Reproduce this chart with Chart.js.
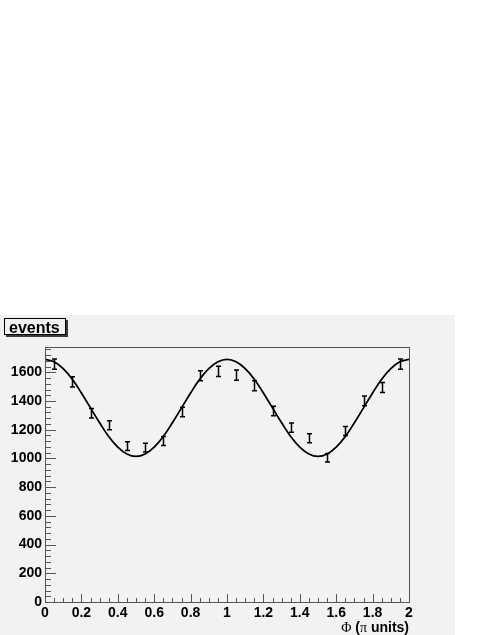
<!DOCTYPE html>
<html>
<head>
<title>events vs phi</title>
<script src="https://cdn.jsdelivr.net/npm/chart.js@4.4.0/dist/chart.umd.min.js"></script>
<style>
    body { margin: 0; background: #ffffff; }
    #plot { display: block; }
</style>
</head>
<body>
<canvas id="plot" width="491" height="635"></canvas>
<script>
// measured bins (phi in pi units) with counts and errors
const phiCenters = [0.05, 0.15, 0.25, 0.35, 0.45, 0.55, 0.65, 0.75, 0.85, 0.95,
                    1.05, 1.15, 1.25, 1.35, 1.45, 1.55, 1.65, 1.75, 1.85, 1.95];
const counts = [1657, 1533, 1315, 1231, 1086, 1075, 1121, 1324, 1576, 1606,
                1580, 1506, 1331, 1215, 1140, 1005, 1191, 1401, 1494, 1657];
const countErrors = [36, 35, 33, 32, 30, 30, 31, 33, 35, 36,
                     35, 35, 33, 32, 31, 30, 32, 34, 35, 36];

// fitted curve
const fitPhi = [0, 0.05, 0.1, 0.15, 0.2, 0.25, 0.3, 0.35, 0.4, 0.45,
                0.5, 0.55, 0.6, 0.65, 0.7, 0.75, 0.8, 0.85, 0.9, 0.95,
                1.0, 1.05, 1.1, 1.15, 1.2, 1.25, 1.3, 1.35, 1.4, 1.45,
                1.5, 1.55, 1.6, 1.65, 1.7, 1.75, 1.8, 1.85, 1.9, 1.95, 2.0];
const fitValues = [1690, 1673, 1625, 1551, 1456, 1352, 1248, 1153, 1079, 1031,
                   1014, 1031, 1079, 1153, 1248, 1352, 1456, 1551, 1625, 1673,
                   1690, 1673, 1625, 1551, 1456, 1352, 1248, 1153, 1079, 1031,
                   1014, 1031, 1079, 1153, 1248, 1352, 1456, 1551, 1625, 1673, 1690];

const xTicks = [0, 0.2, 0.4, 0.6, 0.8, 1, 1.2, 1.4, 1.6, 1.8, 2];
const xTickLabels = ['0', '0.2', '0.4', '0.6', '0.8', '1', '1.2', '1.4', '1.6', '1.8', '2'];
const yTicks = [0, 200, 400, 600, 800, 1000, 1200, 1400, 1600];
const yTickLabels = ['0', '200', '400', '600', '800', '1000', '1200', '1400', '1600'];
const xMinorStep = 0.05;
const yMinorStep = 40;
const yMax = 1776;

const labelFont = { family: 'Liberation Sans, Arial, sans-serif', size: 14, weight: 'bold' };

// gray pad behind the plot
const padBackground = {
    id: 'padBackground',
    beforeDraw(chart) {
        const ctx = chart.ctx;
        ctx.save();
        ctx.fillStyle = '#ffffff';
        ctx.fillRect(0, 0, chart.width, chart.height);
        ctx.fillStyle = '#f2f2f2';
        ctx.fillRect(0, 315, 455, chart.height - 315);
        ctx.restore();
    }
};

// frame plus inward ticks, ROOT style
const frameTicks = {
    id: 'frameTicks',
    afterDraw(chart) {
        const ctx = chart.ctx;
        const a = chart.chartArea;
        const xs = chart.scales.x, ys = chart.scales.y;
        ctx.save();
        ctx.strokeStyle = '#555555';
        ctx.lineWidth = 1;
        ctx.strokeRect(a.left + 0.5, a.top + 0.5, a.right - a.left, a.bottom - a.top);

        ctx.beginPath();
        for (let v = 0; v <= yMax + 0.01; v += yMinorStep) {
            const y = Math.round(ys.getPixelForValue(v)) + 0.5;
            const major = yTicks.some(t => Math.abs(t - v) < 0.01);
            ctx.moveTo(a.left, y);
            ctx.lineTo(a.left + (major ? 11 : 6), y);
        }
        for (let v = 0; v <= 2.0001; v += xMinorStep) {
            const x = Math.round(xs.getPixelForValue(v)) + 0.5;
            const major = xTicks.some(t => Math.abs(t - v) < 0.001);
            ctx.moveTo(x, a.bottom);
            ctx.lineTo(x, a.bottom - (major ? 8 : 4));
        }
        ctx.stroke();

        // axis title: Phi (pi units)
        const parts = [
            { t: '\u03A6', f: '14px "Liberation Serif", "DejaVu Serif", serif' },
            { t: ' (', f: 'bold 14px "Liberation Sans", Arial, sans-serif' },
            { t: '\u03C0', f: '14px "Liberation Serif", "DejaVu Serif", serif' },
            { t: ' units)', f: 'bold 14px "Liberation Sans", Arial, sans-serif' }
        ];
        let total = 0;
        parts.forEach(p => { ctx.font = p.f; p.w = ctx.measureText(p.t).width; total += p.w; });
        let x = a.right - total;
        ctx.fillStyle = '#000000';
        ctx.textBaseline = 'alphabetic';
        ctx.textAlign = 'left';
        parts.forEach(p => { ctx.font = p.f; ctx.fillText(p.t, x, 632); x += p.w; });

        // histogram title box
        ctx.fillStyle = '#3a3a3a';
        ctx.fillRect(6, 320, 62, 17);
        ctx.fillStyle = '#f2f2f2';
        ctx.fillRect(4, 318, 62, 17);
        ctx.strokeStyle = '#000000';
        ctx.strokeRect(4.5, 318.5, 61, 16);
        ctx.fillStyle = '#000000';
        ctx.font = 'bold 16px "Liberation Sans", Arial, sans-serif';
        ctx.fillText('events', 9, 333);
        ctx.restore();
    }
};

// vertical error bars with small caps
const errorBars = {
    id: 'errorBars',
    afterDatasetsDraw(chart) {
        const ctx = chart.ctx;
        const xs = chart.scales.x, ys = chart.scales.y;
        ctx.save();
        ctx.strokeStyle = '#000000';
        ctx.lineWidth = 1.5;
        ctx.beginPath();
        phiCenters.forEach((p, i) => {
            const x = Math.round(xs.getPixelForValue(p)) + 0.5;
            const yt = ys.getPixelForValue(counts[i] + countErrors[i]);
            const yb = ys.getPixelForValue(counts[i] - countErrors[i]);
            ctx.moveTo(x, yt); ctx.lineTo(x, yb);
            ctx.moveTo(x - 2.5, yt); ctx.lineTo(x + 2.5, yt);
            ctx.moveTo(x - 2.5, yb); ctx.lineTo(x + 2.5, yb);
        });
        ctx.stroke();
        ctx.restore();
    }
};

const ctx = document.getElementById('plot').getContext('2d');
const chart = new Chart(ctx, {
    type: 'scatter',
    data: {
        datasets: [
            {
                label: 'fit',
                type: 'line',
                data: fitPhi.map((p, i) => ({ x: p, y: fitValues[i] })),
                borderColor: '#000000',
                borderWidth: 1.8,
                pointRadius: 0,
                fill: false,
                tension: 0.4
            },
            {
                label: 'events',
                data: phiCenters.map((p, i) => ({ x: p, y: counts[i] })),
                pointRadius: 0,
                borderColor: '#000000'
            }
        ]
    },
    options: {
        responsive: false,
        animation: false,
        layout: { padding: { top: 347, right: 82, left: 0, bottom: 0 } },
        plugins: { legend: { display: false }, tooltip: { enabled: false } },
        scales: {
            x: {
                type: 'linear',
                min: 0,
                max: 2,
                grid: { display: false, drawTicks: false },
                border: { display: false },
                afterBuildTicks: s => { s.ticks = xTicks.map(v => ({ value: v })); },
                afterFit: s => { s.height = 33; },
                ticks: {
                    color: '#000000', font: labelFont, padding: 3, maxRotation: 0, autoSkip: false,
                    callback: (v, i) => xTickLabels[i]
                }
            },
            y: {
                type: 'linear',
                min: 0,
                max: yMax,
                grid: { display: false, drawTicks: false },
                border: { display: false },
                afterBuildTicks: s => { s.ticks = yTicks.map(v => ({ value: v })); },
                afterFit: s => { s.width = 45; },
                ticks: {
                    color: '#000000', font: labelFont, padding: 3,
                    callback: (v, i) => yTickLabels[i]
                }
            }
        }
    },
    plugins: [padBackground, frameTicks, errorBars]
});
</script>
</body>
</html>
